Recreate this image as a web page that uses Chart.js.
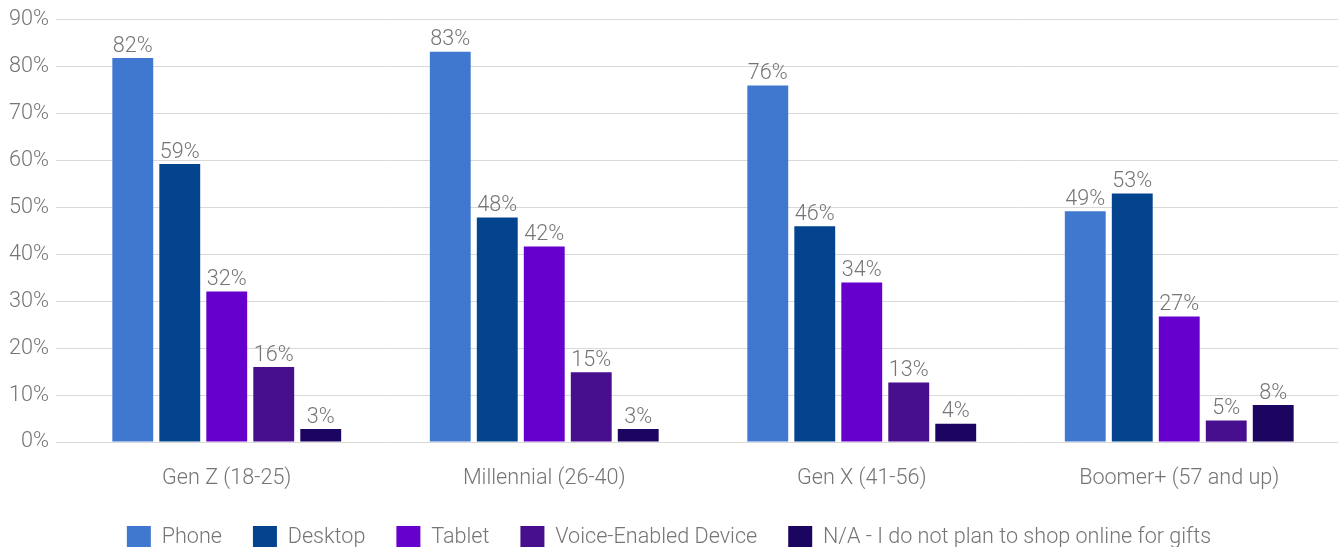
<!DOCTYPE html>
<html>
<head>
<meta charset="utf-8">
<title>Devices used for online gift shopping by generation</title>
<script src="https://cdn.jsdelivr.net/npm/chart.js@4"></script>
<style>
  html, body { margin: 0; padding: 0; background: #fff; }
  #wrap { width: 1341px; height: 547px; }
</style>
</head>
<body>
<div id="wrap"><canvas id="deviceChart"></canvas></div>
<script>
const generations = ["Gen Z (18-25)", "Millennial (26-40)", "Gen X (41-56)", "Boomer+ (57 and up)"];
const seriesNames = ["Phone", "Desktop", "Tablet", "Voice-Enabled Device", "N/A - I do not plan to shop online for gifts"];

const phone   = [81.9, 83.2, 76.0, 49.2];
const desktop = [59.3, 47.9, 46.0, 53.0];
const tablet  = [32.1, 41.7, 34.0, 26.8];
const voice   = [16.0, 14.9, 12.7, 4.6];
const noPlan  = [2.8, 2.8, 3.9, 7.9];

const yTicks = [0, 10, 20, 30, 40, 50, 60, 70, 80, 90];

const colors = ["#4078d0", "#04448f", "#6600cc", "#470e8e", "#1b0561"];
const values = [phone, desktop, tablet, voice, noPlan];

const textGrey = "#757575";
const fontFamily = "Roboto, 'Noto Sans', sans-serif";
const fontSize = 21.6;
Chart.defaults.font.family = fontFamily;
Chart.defaults.font.size = fontSize;
Chart.defaults.font.weight = 300;
Chart.defaults.color = textGrey;

// percentage labels above each bar
const barLabels = {
  id: "barLabels",
  afterDatasetsDraw(chart) {
    const ctx = chart.ctx;
    ctx.save();
    ctx.font = "300 " + fontSize + "px " + fontFamily;
    ctx.fillStyle = textGrey;
    ctx.textAlign = "center";
    ctx.textBaseline = "bottom";
    chart.data.datasets.forEach((ds, i) => {
      chart.getDatasetMeta(i).data.forEach((bar, j) => {
        ctx.fillText(Math.round(ds.data[j]) + "%", bar.x, bar.y - 1);
      });
    });
    ctx.restore();
  }
};

// lift the legend row closer to the category labels
const legendLift = {
  id: "legendLift",
  afterLayout(chart) {
    if (chart.legend) chart.legend.top -= 13;
  }
};

new Chart(document.getElementById("deviceChart"), {
  type: "bar",
  data: {
    labels: generations,
    datasets: seriesNames.map((name, i) => ({
      label: name,
      data: values[i],
      backgroundColor: colors[i],
      categoryPercentage: 0.74,
      barPercentage: 0.87
    }))
  },
  options: {
    responsive: true,
    maintainAspectRatio: false,
    animation: false,
    layout: { padding: { left: 0, right: 3, top: 15, bottom: -26 } },
    plugins: {
      legend: {
        position: "bottom",
        labels: {
          boxWidth: 24,
          boxHeight: 24,
          padding: 31,
          color: textGrey,
          font: { size: fontSize, weight: 300 }
        }
      },
      tooltip: { enabled: false }
    },
    scales: {
      x: {
        grid: { display: false },
        border: { display: false },
        ticks: { padding: 16, color: textGrey, font: { size: fontSize, weight: 300 } }
      },
      y: {
        min: 0,
        max: 90,
        afterBuildTicks(scale) {
          scale.ticks = yTicks.map(v => ({ value: v }));
        },
        afterFit(scale) { scale.width = 68; },
        grid: { color: "#d9d9d9", tickColor: "#d9d9d9", tickLength: 12, lineWidth: 1 },
        border: { display: false },
        ticks: {
          padding: 7,
          color: textGrey,
          font: { size: fontSize, weight: 300 },
          callback: v => v + "%"
        }
      }
    }
  },
  plugins: [barLabels, legendLift]
});
</script>
</body>
</html>
